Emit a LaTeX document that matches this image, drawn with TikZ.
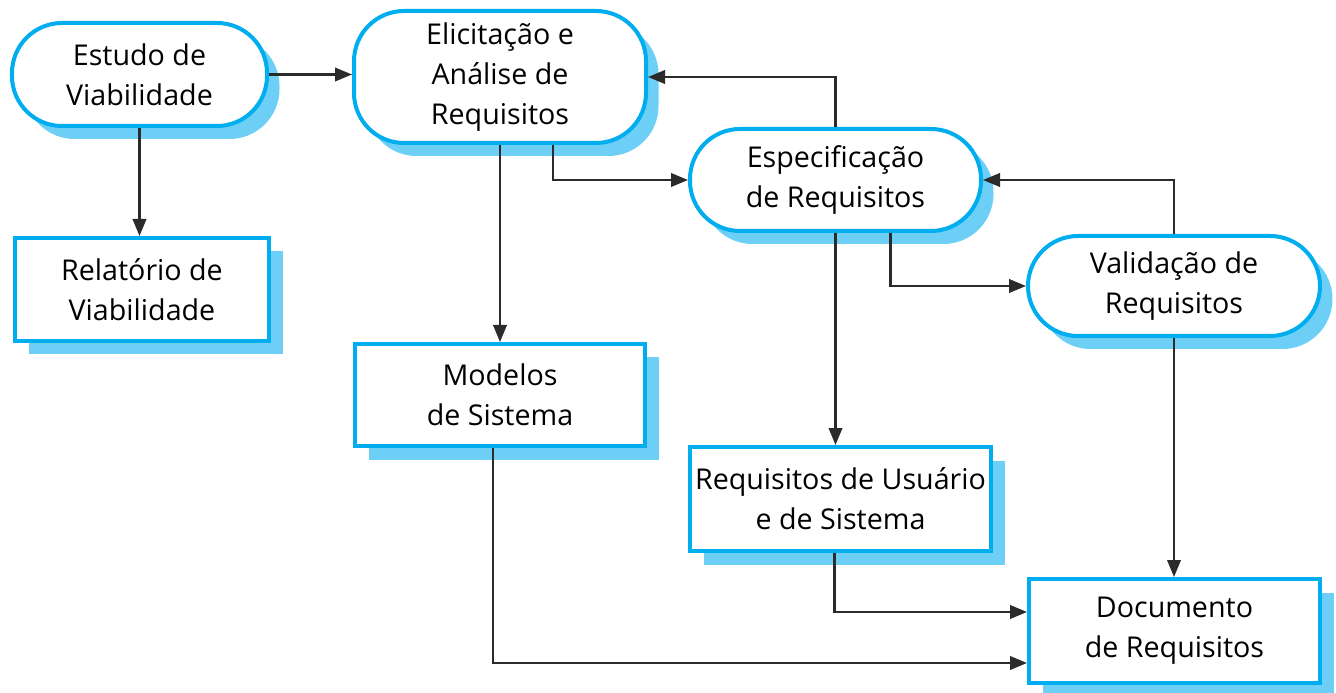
\documentclass[tikz,border=0pt]{standalone}
\usepackage{fontspec}
\setmainfont{Open Sans}
\usetikzlibrary{calc}
\usetikzlibrary{arrows.meta, shadows}
\definecolor{boxblue}{HTML}{00AEEF}
\definecolor{shadeblue}{HTML}{6DCFF6}
\definecolor{linegray}{HTML}{2B2B2B}
\tikzstyle{stage} = [rectangle, 
rounded corners=1cm, 
minimum width=5.84cm, 
minimum height=2.04cm, 
inner sep=0pt, 
align=center, 
font=\fontsize{16.3}{22.8}\selectfont, 
line width=0.08cm, 
draw=boxblue, 
fill=white, 
drop shadow={shadow xshift=0.25cm, shadow yshift=-0.26cm, fill=shadeblue, opacity=1}]
\tikzstyle{product} = [rectangle, 
minimum width=5.82cm, 
minimum height=2.06cm, 
inner sep=0pt, 
align=center, 
font=\fontsize{16.3}{22.8}\selectfont, 
line width=0.08cm, 
draw=boxblue, 
fill=white, 
drop shadow={shadow xshift=0.27cm, shadow yshift=-0.27cm, fill=shadeblue, opacity=1}]
\tikzstyle{arrow} = [line width=0.045cm, draw=linegray, -{Triangle[length=0.34cm, width=0.27cm]}]

\begin{document}
\begin{tikzpicture}[node distance=2cm]
    \useasboundingbox (0,0) rectangle (26.72,-13.86);
    \node (estudo) at (2.79,-1.49) [stage, minimum width=5.10cm, minimum height=2.06cm] {Estudo de\\Viabilidade};
    \node (elicit) at (10.0,-1.54) [stage, minimum height=2.64cm] {Elicitação e\\Análise de\\Requisitos};
    \node (espec) at (16.71,-3.60) [stage, minimum width=5.82cm] {Especificação\\de Requisitos};
    \node (valid) at (23.48,-5.72) [stage, minimum height=2.00cm] {Validação de\\Requisitos};

    \node (relat) at (2.84,-5.79) [product, minimum width=5.08cm] {Relatório de\\Viabilidade};
    \node (modelos) at (10.0,-7.90) [product, minimum width=5.80cm, minimum height=2.04cm] {Modelos\\de Sistema};
    \node (reqs) at (16.81,-9.98) [product, minimum width=6.02cm, minimum height=2.08cm] {Requisitos de Usuário\\e de Sistema};
    \node (doc) at (23.49,-12.62) [product, minimum height=2.08cm] {Documento\\de Requisitos};

    \draw [arrow] (estudo.east) -- (estudo.east -| elicit.west);
    \draw [arrow] (estudo.south) -- (estudo.south |- relat.north);
    \draw [arrow] (espec.north) |- (elicit.east);
    \draw [arrow] (elicit.south) -- (modelos.north);
    \draw [arrow] ([xshift=1.06cm]elicit.south) |- (espec.west);
    \draw [arrow] (valid.north) |- (espec.east);
    \draw [arrow] ([xshift=1.1cm]espec.south) |- (valid.west);
    \draw [arrow] (espec.south) -- (espec.south |- reqs.north);
    \draw [arrow] (valid.south) -- (valid.south |- doc.north);
    \draw [arrow] ([xshift=-0.12cm]reqs.south) |- ([yshift=0.38cm]doc.west);
    \draw [arrow] ([xshift=-0.14cm]modelos.south) |- ([yshift=-0.64cm]doc.west);
\end{tikzpicture}
\end{document}
